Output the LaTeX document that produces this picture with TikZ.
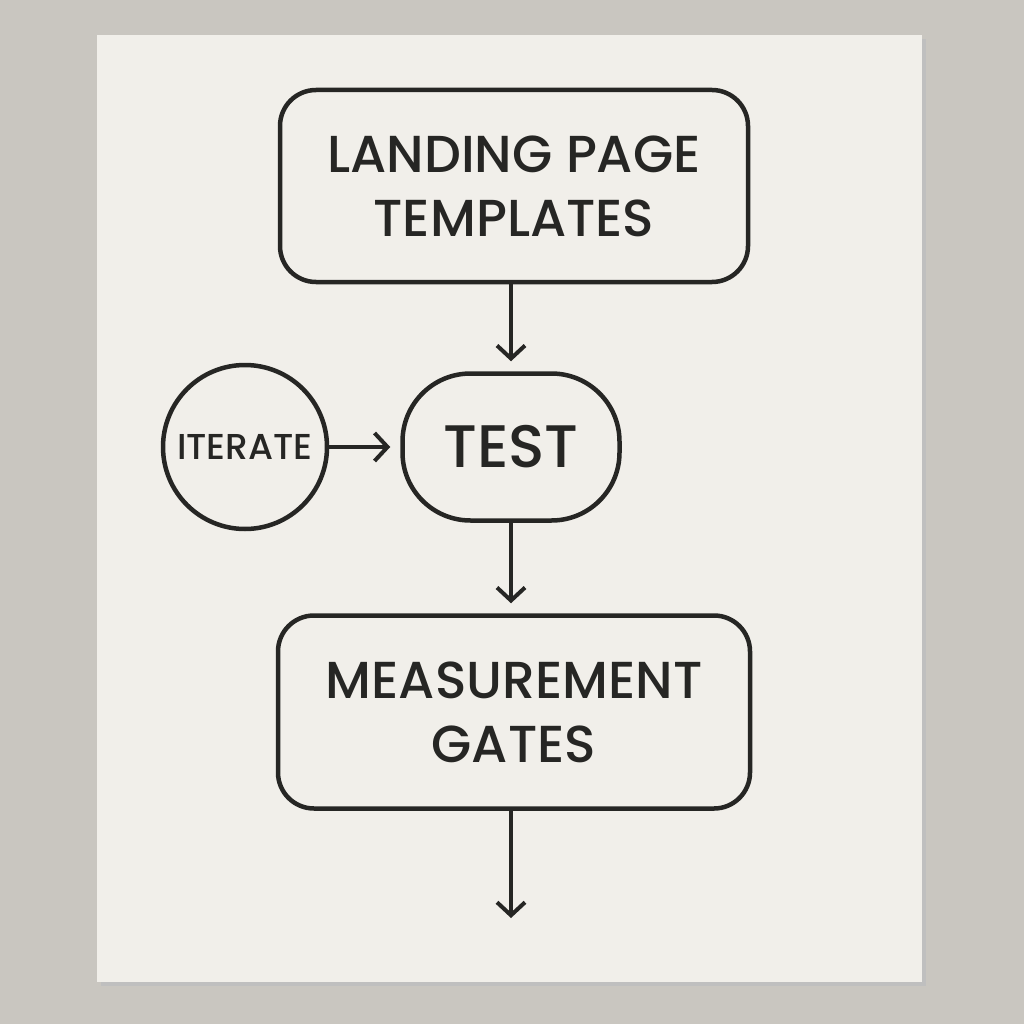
\documentclass[tikz,border=0pt]{standalone}
\usepackage{fontspec}
\setmainfont{Poppins}[BoldFont={Poppins Medium}]
\usetikzlibrary{arrows.meta}
\definecolor{bgc}{HTML}{C9C6C0}
\definecolor{paper}{HTML}{F1EFEA}
\definecolor{ink}{HTML}{262624}
\tikzset{
  box/.style={draw=ink, line width=4.5pt, rounded corners=36pt, align=center, text=ink, font=\bfseries\fontsize{52}{64}\selectfont},
  flow/.style={draw=ink, line width=4pt, line cap=round, shorten >=10pt, -{Straight Barb[length=13pt,width=28pt,line width=4pt]}},
}
\begin{document}
\begin{tikzpicture}[x=1pt,y=-1pt]
\fill[bgc] (0,0) rectangle (1024,1024);
\fill[black!25] (101,39) rectangle (926,986);
\fill[paper] (97,35) rectangle (922,982);
\useasboundingbox (0,0) rectangle (1024,1024);
\node[box, minimum width=468pt, minimum height=192pt] (lp) at (514,186) {LANDING PAGE\\TEMPLATES};
\node[box, minimum width=217pt, minimum height=147pt, rounded corners=68pt, font=\bfseries\fontsize{60}{70}\selectfont] (test) at (511,447) {TEST};
\node[draw=ink, line width=4.5pt, circle, minimum size=164pt, inner sep=0pt, text=ink, font=\bfseries\fontsize{36}{40}\selectfont] (it) at (245,447) {ITERATE};
\node[box, minimum width=472pt, minimum height=193pt] (mg) at (514,712) {MEASUREMENT\\GATES};
\coordinate (end) at (511,928);
\draw[flow] (lp.south -| test) -- (test.north);
\draw[flow] (it.east) -- (test.west);
\draw[flow] (test.south) -- (mg.north -| test);
\draw[flow] (mg.south -| test) -- (end);
\end{tikzpicture}
\end{document}
